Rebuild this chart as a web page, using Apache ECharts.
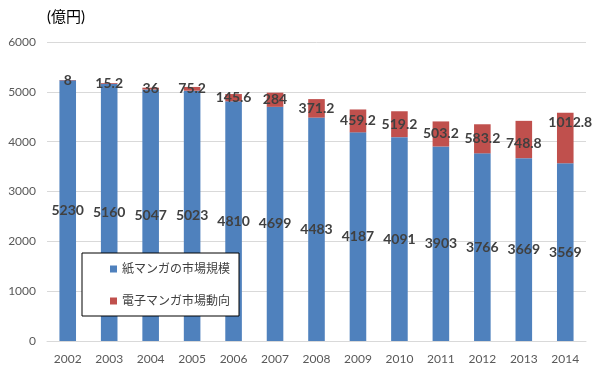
<!DOCTYPE html>
<html>
<head>
<meta charset="utf-8">
<script src="https://cdn.jsdelivr.net/npm/echarts@6/dist/echarts.min.js"></script>
<style>
html,body{margin:0;padding:0;background:#fff;}
#wrap{position:absolute;left:0;top:0;width:600px;height:378px;border:1px solid #d9d9d9;}
#chart{width:602px;height:380px;position:absolute;left:-1px;top:-1px;}
</style>
</head>
<body>
<div id="wrap"><div id="chart"></div></div>
<script>
const categories = ['2002','2003','2004','2005','2006','2007','2008','2009','2010','2011','2012','2013','2014'];
const printValues = [5230, 5160, 5047, 5023, 4810, 4699, 4483, 4187, 4091, 3903, 3766, 3669, 3569];
const digitalValues = [8, 15.2, 36, 75.2, 145.6, 284, 371.2, 459.2, 519.2, 503.2, 583.2, 748.8, 1012.8];
const seriesNames = ['紙マンガの市場規模', '電子マンガ市場動向'];
const unitLabel = '(億円)';

const FONT = 'Lato, "Noto Sans CJK JP", sans-serif';
const chart = echarts.init(document.getElementById('chart'), null, {renderer: 'canvas'});
const labelStyle = {
  show: true, position: 'inside', color: '#404040', fontWeight: 'bold',
  fontSize: 14, fontFamily: FONT
};
chart.setOption({
  animation: false,
  backgroundColor: '#fff',
  title: {
    text: unitLabel, left: 42, top: 5,
    textStyle: {fontSize: 15, fontWeight: 'normal', color: '#000', fontFamily: FONT}
  },
  grid: {left: 47, right: 16, top: 42, bottom: 39},
  legend: {
    orient: 'vertical', left: 82, top: 253,
    padding: [9, 9, 8, 28], itemGap: 18, itemTextGap: 4,
    itemWidth: 7, itemHeight: 7,
    borderColor: '#000', borderWidth: 1, backgroundColor: '#fff',
    icon: 'rect',
    textStyle: {fontSize: 12, color: '#404040', fontFamily: FONT, lineHeight: 14},
    data: seriesNames
  },
  xAxis: {
    type: 'category', data: categories,
    axisLine: {lineStyle: {color: '#d9d9d9'}},
    axisTick: {show: false},
    axisLabel: {color: '#595959', fontSize: 12, fontFamily: FONT, margin: 12}
  },
  yAxis: {
    type: 'value', min: 0, max: 6000, interval: 1000,
    axisLine: {show: false}, axisTick: {show: false},
    splitLine: {lineStyle: {color: '#d9d9d9'}},
    axisLabel: {color: '#595959', fontSize: 12, fontFamily: FONT, margin: 11,
      formatter: v => String(v)}
  },
  series: [
    {
      name: seriesNames[0], type: 'bar', stack: 'total', barWidth: '40%',
      itemStyle: {color: '#4F81BD'}, label: labelStyle,
      data: printValues
    },
    {
      name: seriesNames[1], type: 'bar', stack: 'total', barWidth: '40%',
      itemStyle: {color: '#C0504D'}, label: labelStyle,
      data: digitalValues.map((v, i) => i === digitalValues.length - 1
        ? {value: v, label: {offset: [5, -15]}}
        : (i === digitalValues.length - 2 ? {value: v, label: {offset: [0, 4]}} : v))
    }
  ]
});
</script>
</body>
</html>
